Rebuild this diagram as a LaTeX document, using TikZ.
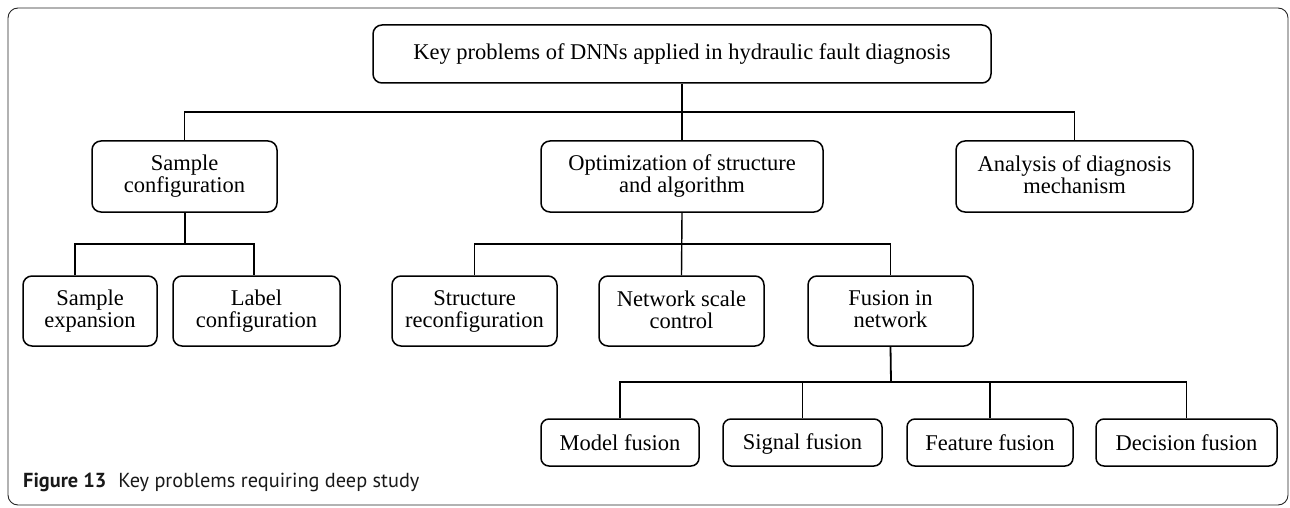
\documentclass[tikz,border=0pt]{standalone}
\usepackage{fontspec}
\setmainfont{Liberation Serif}
\newfontfamily\capfont{PT Sans}
\begin{document}
\begin{tikzpicture}[x=1pt,y=-1pt,
  box/.style={draw, line width=1.5pt, rounded corners=9pt, inner sep=0pt,
    align=center, font=\fontsize{22.5}{22}\selectfont,
    execute at begin node=\rule{0pt}{18pt},
    execute at end node=\rule[-3pt]{0pt}{3pt}},
  lvl/.style={box, minimum height=71pt},
  leaf/.style={box, minimum height=47pt, rounded corners=8pt},
  link/.style={line width=1.4pt}]
\useasboundingbox (0,0) rectangle (1290,508);
% outer frame
\draw[line width=0.9pt, rounded corners=10pt, black!85] (8,8) rectangle (1288,505);

% root
\node[box, minimum width=618pt, minimum height=58pt,
  execute at begin node=\strut, execute at end node=\strut] (root) at (682,54)
  {Key problems of DNNs applied in hydraulic fault diagnosis};

% first level
\node[lvl, minimum width=185pt] (sc)  at (184.5,176.5) {Sample\\configuration};
\node[lvl, minimum width=282pt] (opt) at (682,176.5)   {Optimization of structure\\and algorithm};
\node[lvl, minimum width=237pt] (an)  at (1074.5,176.5){Analysis of diagnosis\\mechanism};

% second level
\node[lvl, minimum width=134pt, minimum height=70pt] (se)  at (90,311)    {Sample\\expansion};
\node[lvl, minimum width=167pt, minimum height=70pt] (lc)  at (256.5,311) {Label\\configuration};
\node[lvl, minimum width=165pt, minimum height=70pt] (sr)  at (474.5,311) {Structure\\reconfiguration};
\node[lvl, minimum width=165pt, minimum height=70pt] (nsc) at (681.5,311) {Network scale\\control};
\node[lvl, minimum width=165pt, minimum height=70pt] (fin) at (890.5,311) {Fusion in\\network};

% fusion leaves
\node[leaf, minimum width=158pt] (mf) at (620,442.5)    {Model fusion};
\node[leaf, minimum width=159pt] (sf) at (802.5,442.5)  {Signal fusion};
\node[leaf, minimum width=166pt] (ff) at (990,442.5)    {Feature fusion};
\node[leaf, minimum width=181pt] (df) at (1186.5,442.5) {Decision fusion};

% bus junctions
\coordinate (b1) at (682,112);
\coordinate (b2) at (184.5,244);
\coordinate (b3) at (682,244);
\coordinate (b4) at (891,382);

% connectors
\draw[link] (root.south) -- (opt.north);
\draw[link] (sc.north) |- (b1) -| (an.north);

\draw[link, line width=2pt] (sc.south) -- (b2);
\draw[link] ([xshift=-15pt]se.north) |- (b2) -| ([xshift=-2.5pt]lc.north);

\draw[link] (opt.south) -- (nsc.north);
\draw[link] (sr.north) |- (b3) -| (fin.north);

\draw[link, line width=1.8pt] (fin.south) -- (b4);
\draw[link] (mf.north) |- (b4) -| (df.north);
\draw[link] (sf.north) -- (sf.north |- b4);
\draw[link] (ff.north) -- (ff.north |- b4);

% caption
\node[anchor=base west, inner sep=0pt, text=black!90,
  font=\capfont\fontsize{20.3}{20.3}\selectfont] (cap) at (23,487)
  {\textbf{Figure 13}\hspace{12pt}Key problems requiring deep study};
\end{tikzpicture}
\end{document}
